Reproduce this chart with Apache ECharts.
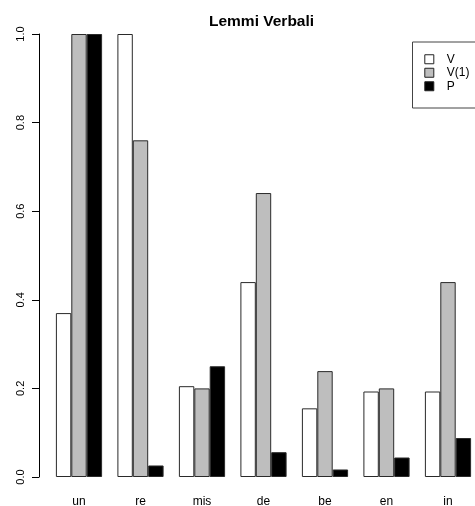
<!DOCTYPE html>
<html>
<head>
<meta charset="utf-8">
<script src="https://cdn.jsdelivr.net/npm/echarts@6/dist/echarts.min.js"></script>
<style>html,body{margin:0;padding:0;background:#fff;}#c{width:475px;height:506px;}</style>
</head>
<body>
<div id="c"></div>
<script>
var categories = ['un', 're', 'mis', 'de', 'be', 'en', 'in'];
var seriesNames = ['V', 'V(1)', 'P'];
var valuesV  = [0.37, 1.00, 0.205, 0.44, 0.155, 0.193, 0.193];
var valuesV1 = [1.00, 0.76, 0.200, 0.641, 0.239, 0.200, 0.440];
var valuesP  = [1.00, 0.026, 0.250, 0.056, 0.017, 0.044, 0.088];
var barColors = ['#FFFFFF', '#BEBEBE', '#000000'];
var yTicks = [0, 0.2, 0.4, 0.6, 0.8, 1.0];
var titleText = 'Lemmi Verbali';

var font = '"Liberation Sans", Arial, Helvetica, sans-serif';
var chart = echarts.init(document.getElementById('c'), null, {renderer: 'canvas'});
var allValues = [valuesV, valuesV1, valuesP];
var series = seriesNames.map(function (n, i) {
  return {
    name: n,
    type: 'bar',
    data: allValues[i],
    barWidth: 15.4,
    barGap: '0%',
    itemStyle: {color: barColors[i], borderColor: '#2a2a2a', borderWidth: 1},
    emphasis: {disabled: true},
    animation: false
  };
});
chart.setOption({
  animation: false,
  backgroundColor: '#fff',
  title: {
    text: titleText,
    left: 209,
    top: 14,
    padding: 0,
    textStyle: {fontFamily: font, fontWeight: 'bold', fontSize: 15.5, color: '#000'}
  },
  legend: {
    data: seriesNames,
    orient: 'vertical',
    left: 412.5,
    top: 42,
    padding: [10.5, 8, 15, 11.8],
    itemGap: 0,
    itemWidth: 9,
    itemHeight: 9,
    icon: 'rect',
    borderColor: '#444',
    borderWidth: 1,
    itemStyle: {borderColor: '#222', borderWidth: 1},
    textStyle: {fontFamily: font, fontSize: 12, color: '#000', lineHeight: 13.5, padding: [0, 0, 0, 8]},
    selectedMode: false
  },
  grid: {left: 48.25, right: -3.75, top: 34, bottom: 29, containLabel: false, outerBoundsMode: 'none'},
  xAxis: {
    type: 'category',
    data: categories,
    axisLine: {show: false},
    axisTick: {show: false},
    axisLabel: {fontFamily: font, fontSize: 12, color: '#000', margin: 19}
  },
  yAxis: {
    type: 'value',
    min: 0,
    max: 1,
    interval: 0.2,
    offset: 9.25,
    splitLine: {show: false},
    axisLine: {show: true, lineStyle: {color: '#000', width: 1}},
    axisTick: {show: true, length: 7, lineStyle: {color: '#000'}},
    axisLabel: {
      rotate: 90,
      margin: 13,
      fontFamily: font,
      fontSize: 11,
      color: '#000',
      formatter: function (v) { return v.toFixed(1); }
    }
  },
  series: series
});
</script>
</body>
</html>
